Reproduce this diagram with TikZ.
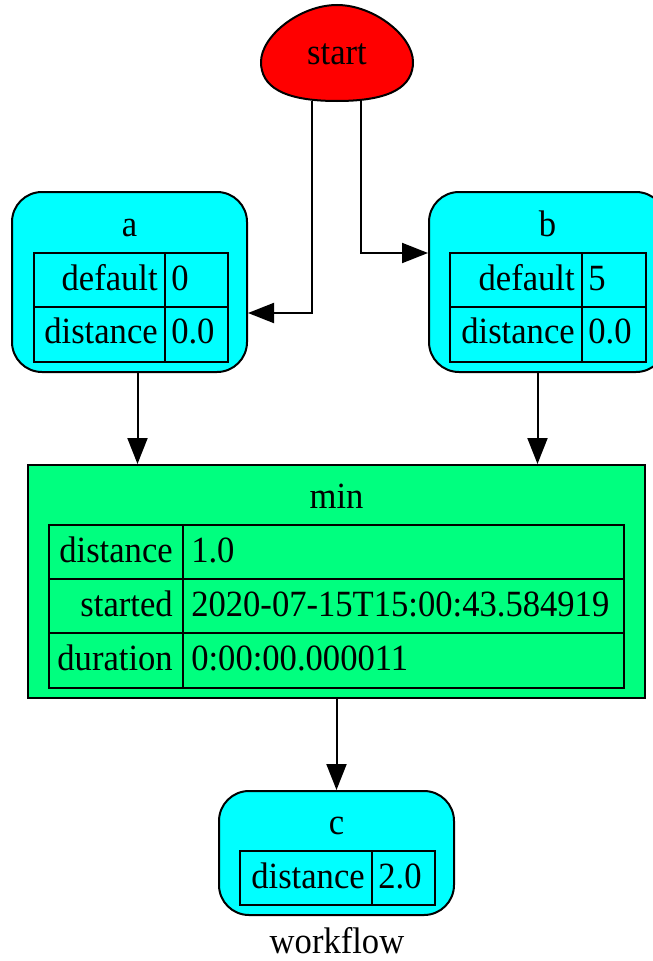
\documentclass[tikz,border=0pt]{standalone}
\usepackage{fontspec}
\setmainfont[FakeStretch=0.935]{Liberation Serif}
\usetikzlibrary{arrows.meta}
\definecolor{taskcyan}{RGB}{0,255,255}
\definecolor{mingreen}{RGB}{0,255,127}
\definecolor{startred}{RGB}{255,0,0}
\tikzset{
  gvfont/.style={font=\fontsize{37}{42}\selectfont},
  taskbox/.style={draw=black, line width=2pt, fill=taskcyan, rounded corners=30pt, inner sep=0pt},
  minbox/.style={draw=black, line width=2pt, fill=mingreen, inner sep=0pt},
  cellbox/.style={draw=black, line width=1.8pt, inner sep=0pt},
  keytxt/.style={gvfont, inner sep=0pt, anchor=base east},
  valtxt/.style={gvfont, inner sep=0pt, anchor=base west},
  titletxt/.style={gvfont, inner sep=0pt, anchor=base},
  arr/.style={draw=black, line width=2pt, -{Triangle[length=26pt,width=20pt]}},
}
\begin{document}
\begin{tikzpicture}[x=1pt,y=-1pt]
\useasboundingbox (0,0) rectangle (653,961);

% start (egg)
\node[minimum width=152pt, minimum height=96pt, inner sep=0pt] (start) at (337,53) {};
\draw[line width=2pt, fill=startred] (337,101) .. controls (392,101) and (413,86) .. (413,62)
  .. controls (413,36) and (374,5) .. (337,5)
  .. controls (300,5) and (261,36) .. (261,62)
  .. controls (261,86) and (282,101) .. (337,101) -- cycle;
\node[titletxt] (startt) at ([yshift=-11pt]start.center) {start};

% a
\node[taskbox, minimum width=235pt, minimum height=180pt] (a) at (129.5,282) {};
\node[titletxt] (at) at ([yshift=-45pt]a.north) {a};
\node[cellbox, minimum width=131pt, minimum height=54pt] (ak1) at (99.5,280) {};
\node[cellbox, minimum width=63pt, minimum height=54pt] (av1) at (196.5,280) {};
\node[cellbox, minimum width=131pt, minimum height=55pt] (ak2) at (99.5,334.5) {};
\node[cellbox, minimum width=63pt, minimum height=55pt] (av2) at (196.5,334.5) {};
\node[keytxt] (ak1t) at ([shift={(-8pt,-10pt)}]ak1.east) {default};
\node[valtxt] (av1t) at ([shift={(7pt,-10pt)}]av1.west) {0};
\node[keytxt] (ak2t) at ([shift={(-8pt,-9pt)}]ak2.east) {distance};
\node[valtxt] (av2t) at ([shift={(7pt,-9pt)}]av2.west) {0.0};

% b
\node[taskbox, minimum width=237pt, minimum height=180pt] (b) at (547.5,282) {};
\node[titletxt] (bt) at ([yshift=-45pt]b.north) {b};
\node[cellbox, minimum width=132pt, minimum height=54pt] (bk1) at (516,280) {};
\node[cellbox, minimum width=64pt, minimum height=54pt] (bv1) at (614,280) {};
\node[cellbox, minimum width=132pt, minimum height=55pt] (bk2) at (516,334.5) {};
\node[cellbox, minimum width=64pt, minimum height=55pt] (bv2) at (614,334.5) {};
\node[keytxt] (bk1t) at ([shift={(-8pt,-10pt)}]bk1.east) {default};
\node[valtxt] (bv1t) at ([shift={(7pt,-10pt)}]bv1.west) {5};
\node[keytxt] (bk2t) at ([shift={(-8pt,-9pt)}]bk2.east) {distance};
\node[valtxt] (bv2t) at ([shift={(7pt,-9pt)}]bv2.west) {0.0};

% min
\node[minbox, minimum width=617pt, minimum height=233pt] (min) at (336.5,581.5) {};
\node[titletxt] (mint) at ([yshift=-44pt]min.north) {min};
\node[cellbox, minimum width=134pt, minimum height=54pt] (mk1) at (116,552) {};
\node[cellbox, minimum width=441pt, minimum height=54pt] (mv1) at (403.5,552) {};
\node[cellbox, minimum width=134pt, minimum height=54pt] (mk2) at (116,606) {};
\node[cellbox, minimum width=441pt, minimum height=54pt] (mv2) at (403.5,606) {};
\node[cellbox, minimum width=134pt, minimum height=55pt] (mk3) at (116,660.5) {};
\node[cellbox, minimum width=441pt, minimum height=55pt] (mv3) at (403.5,660.5) {};
\node[keytxt] (mk1t) at ([shift={(-11pt,-10pt)}]mk1.east) {distance};
\node[valtxt] (mv1t) at ([shift={(9pt,-10pt)}]mv1.west) {1.0};
\node[keytxt] (mk2t) at ([shift={(-11pt,-10pt)}]mk2.east) {started};
\node[valtxt] (mv2t) at ([shift={(9pt,-10pt)}]mv2.west) {2020-07-15T15:00:43.584919};
\node[keytxt] (mk3t) at ([shift={(-11pt,-10pt)}]mk3.east) {duration};
\node[valtxt] (mv3t) at ([shift={(9pt,-10pt)}]mv3.west) {0:00:00.000011};

% c
\node[taskbox, minimum width=235pt, minimum height=124pt] (c) at (336.5,853) {};
\node[titletxt] (ct) at ([yshift=-44pt]c.north) {c};
\node[cellbox, minimum width=132pt, minimum height=54pt] (ck1) at (306,878) {};
\node[cellbox, minimum width=63pt, minimum height=54pt] (cv1) at (403.5,878) {};
\node[keytxt] (ck1t) at ([shift={(-8pt,-10pt)}]ck1.east) {distance};
\node[valtxt] (cv1t) at ([shift={(7pt,-10pt)}]cv1.west) {2.0};

% graph label
\node[titletxt] (wf) at (337,953) {workflow};

% edges
\draw[arr] ([xshift=-25pt]start.south) |- ([yshift=-31pt]a.east);
\draw[arr] ([xshift=24pt]start.south) |- ([yshift=29pt]b.west);
\draw[arr] ([xshift=8pt]a.south) -- ([xshift=8pt]a.south |- min.north);
\draw[arr] ([xshift=-10pt]b.south) -- ([xshift=-10pt]b.south |- min.north);
\draw[arr] (min.south) -- (c.north);
\end{tikzpicture}
\end{document}
